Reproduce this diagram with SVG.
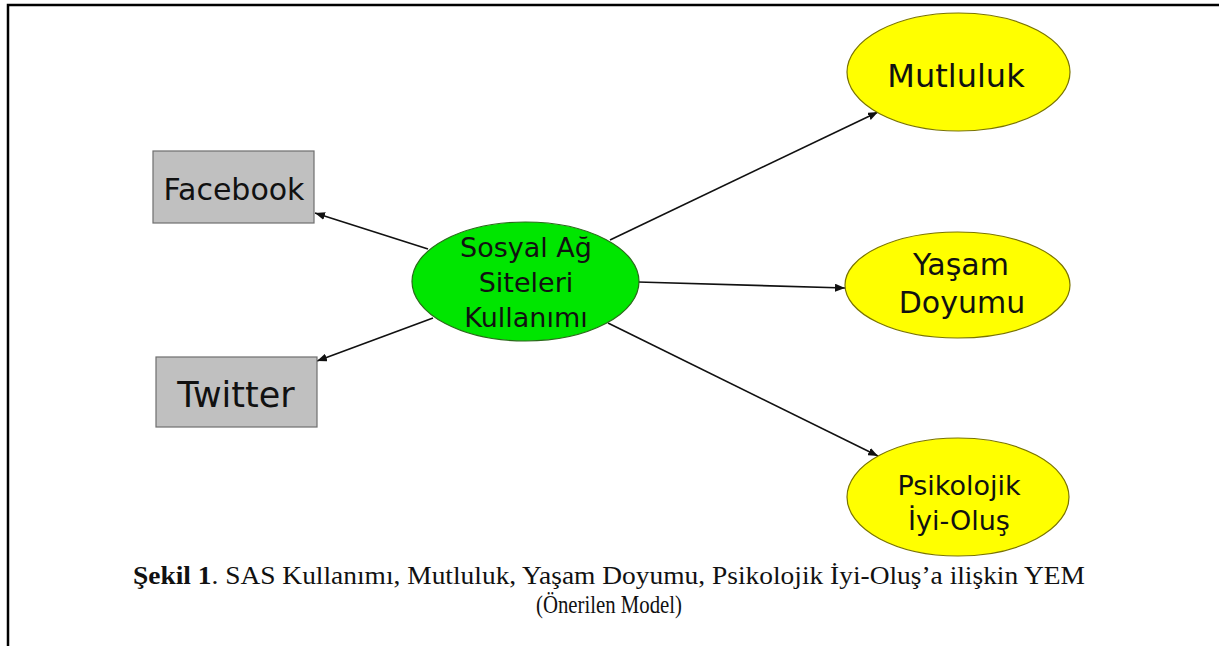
<svg xmlns="http://www.w3.org/2000/svg" width="1219" height="646" viewBox="0 0 1219 646">
<style>
.box{fill:#c0c0c0;stroke:#6e6e6e;stroke-width:1.2}
.yel{fill:#ffff00;stroke:#7a7400;stroke-width:1.2}
.grn{fill:#00e600;stroke:#2a6a1a;stroke-width:1.2}
.lbl{font-family:"DejaVu Sans",Verdana,sans-serif;fill:#111;text-anchor:middle}
.cap{font-family:"Liberation Serif","Times New Roman",serif;fill:#111;font-size:25px;text-anchor:middle}
.edge{stroke:#111;stroke-width:1.6;fill:none;marker-end:url(#ah)}
</style>
<defs>
<marker id="ah" viewBox="0 0 10 8" refX="10" refY="4" markerWidth="10" markerHeight="8" markerUnits="userSpaceOnUse" orient="auto">
<path d="M0,0 L10,4 L0,8 z" fill="#111"/>
</marker>
</defs>
<rect width="1219" height="646" fill="#fff"/>
<g id="frame" stroke="#000" stroke-width="2.5" fill="none">
<path d="M8,646 V5 H1219"/>
</g>
<g id="connectors">
<line class="edge" x1="428" y1="249" x2="315" y2="213"/>
<line class="edge" x1="433" y1="318" x2="317" y2="361"/>
<line class="edge" x1="610" y1="240" x2="878" y2="112"/>
<line class="edge" x1="638" y1="282" x2="845" y2="288"/>
<line class="edge" x1="608" y1="323" x2="878" y2="456"/>
</g>
<g id="facebook">
<rect class="box" x="153" y="151" width="161" height="72"/>
<text class="lbl" x="234" y="200" font-size="30">Facebook</text>
</g>
<g id="twitter">
<rect class="box" x="156" y="357" width="161" height="70"/>
<text class="lbl" x="236" y="407" font-size="35">Twitter</text>
</g>
<g id="sas">
<ellipse class="grn" cx="525.5" cy="281.5" rx="113.5" ry="59.5"/>
<text class="lbl" font-size="27"><tspan x="526" y="257">Sosyal Ağ</tspan><tspan x="526" y="292">Siteleri</tspan><tspan x="526" y="327">Kullanımı</tspan></text>
</g>
<g id="mutluluk">
<ellipse class="yel" cx="958.5" cy="72" rx="111.5" ry="59"/>
<text class="lbl" x="956" y="87" font-size="32">Mutluluk</text>
</g>
<g id="yasam">
<ellipse class="yel" cx="957.5" cy="285" rx="112.5" ry="53"/>
<text class="lbl" font-size="30"><tspan x="961" y="275">Yaşam</tspan><tspan x="962" y="313">Doyumu</tspan></text>
</g>
<g id="psikolojik">
<ellipse class="yel" cx="958" cy="497" rx="111" ry="59"/>
<text class="lbl" font-size="27"><tspan x="959" y="495">Psikolojik</tspan><tspan x="959" y="530">İyi-Oluş</tspan></text>
</g>
<g id="caption">
<text class="cap" x="609" y="584" textLength="952" lengthAdjust="spacingAndGlyphs"><tspan font-weight="bold">Şekil 1</tspan>. SAS Kullanımı, Mutluluk, Yaşam Doyumu, Psikolojik İyi-Oluş’a ilişkin YEM</text>
<text class="cap" x="609" y="613" textLength="146" lengthAdjust="spacingAndGlyphs">(Önerilen Model)</text>
</g>
</svg>
